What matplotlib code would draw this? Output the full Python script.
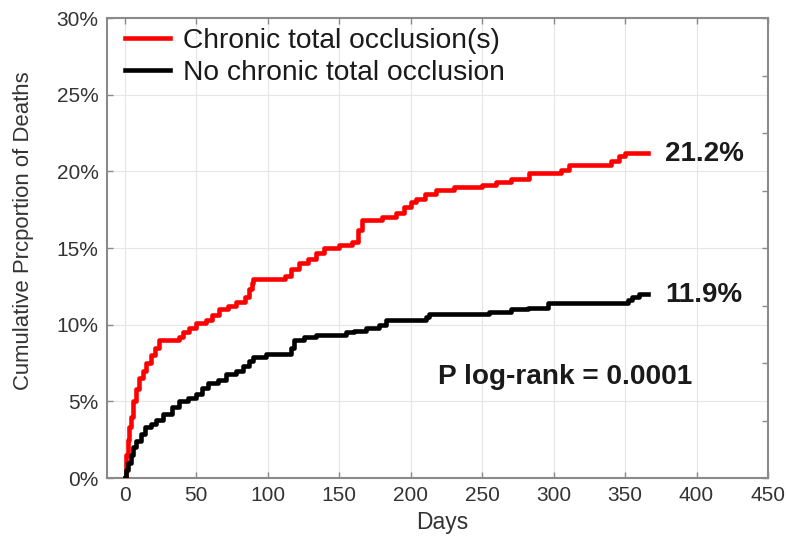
import matplotlib
matplotlib.use("Agg")
import matplotlib.pyplot as plt
import numpy as np

plt.rcParams['font.family'] = ['Liberation Sans', 'DejaVu Sans']

# Data (days, cumulative % deaths)
cto_days = [0, 1, 2, 3, 4, 6, 8, 10, 13, 15, 18, 21, 24, 38, 41, 45, 50, 57, 61, 66, 72, 78, 84,
            87, 89, 90, 112, 116, 122, 128, 134, 139, 150, 159, 163, 166, 180, 190, 195, 200, 204,
            210, 218, 230, 250, 260, 270, 283, 305, 311, 340, 346, 350, 366]
cto_pct = [0, 1.5, 2.5, 3.3, 4.0, 5.0, 5.8, 6.5, 7.0, 7.5, 8.0, 8.5, 9.0, 9.2, 9.5, 9.8, 10.1, 10.3,
           10.6, 11.0, 11.2, 11.5, 11.8, 12.3, 12.7, 13.0, 13.2, 13.6, 14.0, 14.3, 14.7, 15.0, 15.2,
           15.4, 16.2, 16.8, 17.0, 17.3, 17.7, 18.0, 18.2, 18.5, 18.8, 19.0, 19.1, 19.3, 19.5, 19.9,
           20.1, 20.4, 20.7, 21.0, 21.2, 21.2]

no_days = [0, 1, 2, 4, 6, 8, 11, 14, 18, 22, 27, 33, 38, 44, 50, 54, 58, 65, 71, 78, 83, 87, 90,
           99, 116, 118, 125, 134, 155, 160, 169, 178, 183, 211, 213, 255, 270, 282, 296, 352, 355,
           360, 366]
no_pct = [0, 0.5, 1.0, 1.5, 2.0, 2.4, 2.9, 3.3, 3.5, 3.8, 4.2, 4.6, 5.0, 5.2, 5.5, 5.9, 6.2, 6.4,
          6.8, 7.0, 7.3, 7.6, 7.9, 8.1, 8.5, 9.0, 9.2, 9.3, 9.5, 9.6, 9.8, 10.0, 10.3, 10.5, 10.7,
          10.85, 11.0, 11.1, 11.4, 11.6, 11.8, 12.0, 12.0]

labels = ["Chronic total occlusion(s)", "No chronic total occlusion"]
end_labels = ["21.2%", "11.9%"]
x_ticks = [0, 50, 100, 150, 200, 250, 300, 350, 400, 450]
y_ticks = [0, 5, 10, 15, 20, 25, 30]

fig = plt.figure(figsize=(7.86, 5.36), dpi=100)
ax = fig.add_axes([107/786, 58/536, (768-107)/786, (478-18)/536])

ax.step(cto_days, cto_pct, where='post', color='#ff0000', lw=3.3, label=labels[0], zorder=3)
ax.step(no_days, no_pct, where='post', color='#000000', lw=3.3, label=labels[1], zorder=3)

ax.set_xlim(-12.5, 450)
ax.set_ylim(0, 30)
ax.set_xticks(x_ticks)
ax.set_yticks(y_ticks)
ax.set_yticklabels([f"{v}%" for v in y_ticks])
ax.grid(True, color='#e6e6e6', lw=0.8, zorder=0)
ax.set_axisbelow(True)

for s in ax.spines.values():
    s.set_color('#8a8a8a')
    s.set_linewidth(1.5)

ax.tick_params(direction='in', length=4, width=1, color='#8a8a8a', labelsize=15,
               labelcolor='#333333', top=True, right=False, pad=6)

# right side ticks (unlabeled)
ax2 = ax.twinx()
ax2.set_ylim(0, 30)
ax2.set_yticks(np.linspace(0, 30, 9))
ax2.tick_params(direction='in', length=4, width=1, color='#8a8a8a', labelright=False)
for s in ax2.spines.values():
    s.set_visible(False)

ax.set_xlabel("Days", fontsize=16.5, color='#333333')
ax.xaxis.set_label_coords((442 - 107) / 661, -(523 - 478) / 460)
ax.set_ylabel("Cumulative Prcportion of Deaths", fontsize=15.9, color='#333333')
ax.yaxis.set_label_coords((24 - 107) / 661, (478 - 231) / 460)
ax.xaxis.label.set_va('center')
ax.yaxis.label.set_va('center')

ax.text(378, 21.1, end_labels[0], fontsize=20, fontweight='bold', va='center', ha='left', color='#1a1a1a')
ax.text(378, 11.95, end_labels[1], fontsize=20, fontweight='bold', va='center', ha='left', color='#1a1a1a')
ax.text(219, 6.6, "P log-rank = 0.0001", fontsize=20.2, fontweight='bold', va='center', ha='left', color='#1a1a1a')

leg = ax.legend(loc='upper left', fontsize=20.3, frameon=False, handlelength=1.6,
                handletextpad=0.45, labelspacing=0.2, borderaxespad=0.3, borderpad=0.05,
                bbox_to_anchor=(0.012, 1.0))
for t in leg.get_texts():
    t.set_color('#1a1a1a')

fig.savefig("out.png", dpi=100)
